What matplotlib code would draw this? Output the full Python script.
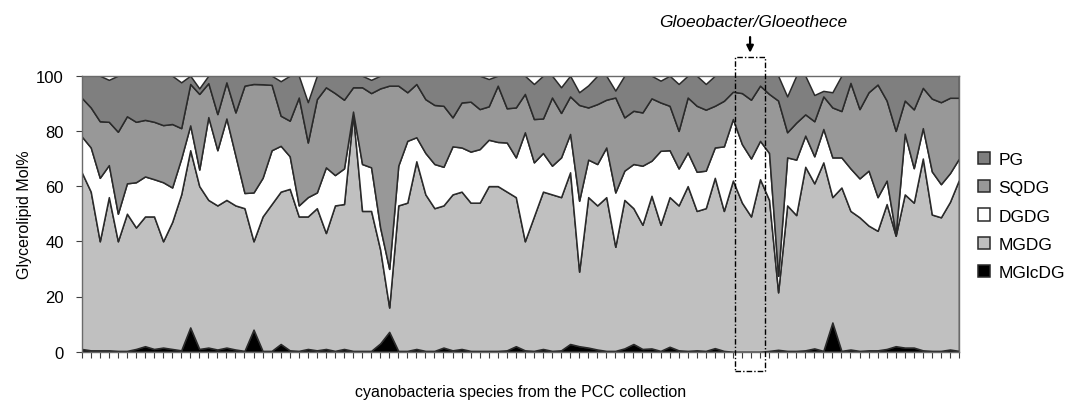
import matplotlib
matplotlib.use("Agg")
import matplotlib.pyplot as plt
from matplotlib.patches import Rectangle
import numpy as np

plt.rcParams["font.family"] = ["Liberation Sans", "DejaVu Sans"]

# ---------------------------------------------------------------------------
# Data: mol% of each glycerolipid class, one value per PCC strain (98 strains)
# ---------------------------------------------------------------------------

lipids = ["MGlcDG", "MGDG", "DGDG", "SQDG", "PG"]

mglcdg = [1, 0.5, 0.5, 0.5, 0.3, 0.3, 1, 2, 1, 1.5,
          1, 0.5, 8.8, 1, 1.5, 0.8, 1.5, 0.8, 0.3, 8,
          0.3, 0.3, 2.8, 0.5, 0.3, 1, 0.5, 1, 0.3, 1,
          0.3, 0.3, 0.3, 3, 7.2, 0.3, 0.3, 1, 0.3, 0.3,
          1.5, 0.5, 1, 0.3, 0.3, 0.3, 0.3, 0.5, 2, 0.5,
          0.3, 1, 0.3, 0.5, 2.8, 2, 1.5, 0.8, 0.3, 0.3,
          1.2, 2.8, 1, 1.2, 0.3, 1.8, 0.5, 0.3, 0.5, 0.3,
          1.3, 0.3, 0, 0, 0, 0, 0.3, 0.7, 0.3, 0.3,
          0.5, 1.2, 0.3, 10.6, 0.3, 0.8, 0.3, 0.5, 0.5, 1,
          2, 1.5, 1.5, 0.5, 0.3, 0.3, 0.8, 0.3]

mgdg = [64, 57.5, 39.5, 55.5, 39.7, 49.7, 44, 47, 48, 38.5,
        46, 56.5, 64.2, 59, 53.5, 52.2, 53.5, 52.2, 51.7, 32,
        48.7, 53.2, 55.2, 58.5, 48.7, 48, 51.5, 42, 52.7, 52.5,
        85.7, 50.7, 50.7, 34, 8.8, 52.7, 53.7, 68, 56.7, 51.7,
        51.5, 56.5, 57, 53.7, 53.7, 59.7, 59.7, 57.5, 54, 39.5,
        48.7, 57, 56.7, 55.5, 62.2, 27, 54.5, 52.2, 55.7, 37.7,
        53.8, 49.2, 45, 55.3, 45.7, 54.2, 52.5, 59.7, 50.5, 51.7,
        61.7, 50.7, 62, 54, 49, 62.5, 54.7, 20.8, 52.7, 49.2,
        66.5, 59.8, 68.3, 45.4, 59.2, 50.2, 48.4, 45.2, 43.3, 52.5,
        40, 55.5, 52.5, 69.5, 49.4, 48.4, 53.5, 62]

dgdg = [13, 16, 23, 11.6, 10, 11, 16.4, 14.5, 13.5, 21.4,
        12.5, 13, 9, 6, 30, 20, 29.5, 18, 5.5, 17.7,
        14, 19.5, 16.6, 11.8, 4, 7, 5.7, 23.8, 11, 12.9,
        1, 17, 15.8, 8, 14, 14.4, 22.4, 8.7, 15, 16,
        14, 17.4, 16, 18.5, 19.4, 16.8, 16, 17.8, 14.4, 39.5,
        19.6, 14, 10.4, 14.4, 13.9, 25.7, 13.6, 15, 18, 19.7,
        10.6, 16, 21.4, 12.7, 26.8, 17, 13.4, 12.2, 14.2, 13.6,
        11, 23.4, 22.3, 21.2, 21, 13.9, 17, 6, 17.4, 20.1,
        11.3, 9.8, 12.1, 14.4, 10.9, 15.4, 14.1, 19.9, 12.2, 8.5,
        0.6, 22, 12.5, 11, 15.6, 12, 10.4, 7.7]

sqdg = [14, 14.5, 20.5, 15.7, 29.7, 24.3, 21.9, 20.5, 20.8, 20.7,
        23, 11, 15, 27.4, 12.3, 13.1, 13.1, 15.7, 38.9, 39.3,
        33.9, 23.7, 10.9, 12.9, 39.1, 19.8, 33.8, 29, 29.7, 24.9,
        8.8, 27.8, 26.9, 50.4, 66.4, 29, 17.6, 19.3, 19.5, 21.4,
        22.1, 10.5, 16.3, 18.1, 14.5, 12.1, 20.4, 12.4, 18.1, 13.9,
        15.7, 12.5, 24.7, 16.1, 13.6, 34.7, 18.9, 21.7, 17.3, 34.4,
        19.3, 19.3, 19.3, 22.6, 17.5, 16.1, 13.6, 19.9, 23.9, 22.1,
        15.1, 16.5, 9.9, 18.5, 21.3, 20, 21.4, 63.5, 9.1, 13.4,
        7.7, 12.7, 11.8, 18.1, 16.8, 31, 25.1, 28.4, 40.8, 29,
        37.4, 12, 21.3, 14.6, 26.4, 29.7, 27.3, 22]

pg = [8, 11.5, 16.5, 15.2, 20.3, 14.7, 16.7, 16, 16.7, 17.9,
      17.5, 16.6, 3, 2, 2.7, 13.9, 2.4, 13.3, 3.6, 3,
      3.1, 3.3, 12.5, 16.3, 7.9, 14.6, 8.5, 4.2, 6.3, 8.7,
      4.2, 4.2, 4.8, 4.6, 3.6, 3.6, 6, 3, 8.5, 10.6,
      10.9, 15.1, 9.7, 9.4, 12.1, 9.9, 3.6, 11.8, 11.5, 6.6,
      12.7, 15.5, 7.9, 9.3, 7.5, 4.6, 8, 10.3, 8.7, 2.5,
      15.1, 12.7, 13.3, 8.2, 7.9, 10.9, 17, 7.9, 10.9, 9.3,
      10.9, 9.1, 5.8, 6.3, 8.7, 3.6, 6.6, 9, 13, 17,
      14, 9.5, 2, 5.5, 12.8, 2.6, 12.1, 6, 3.2, 9,
      20, 9, 12.2, 4.4, 8.3, 9.6, 8, 8]

highlight = "Gloeobacter/Gloeothece"

colors = ["black", "#c0c0c0", "white", "#989898", "#7f7f7f"]

# ---------------------------------------------------------------------------
# Plot
# ---------------------------------------------------------------------------

x = np.arange(len(mgdg))

fig = plt.figure(figsize=(10.71, 4.10), dpi=100)
ax = fig.add_axes([81.7 / 1071, 1 - 352.7 / 410, (959 - 81.7) / 1071, (352.7 - 76.7) / 410])

polys = ax.stackplot(x, mglcdg, mgdg, dgdg, sqdg, pg, labels=lipids, colors=colors,
                     edgecolor="#2a2a2a", linewidth=1.1)

ax.set_xlim(0, len(x) - 1)
ax.set_ylim(0, 100)
ax.set_yticks(range(0, 101, 20))
ax.set_xticks(x)
ax.set_xticklabels([])
ax.tick_params(axis="x", length=4, direction="out", color="#404040")
ax.tick_params(axis="y", length=4, direction="out", color="#404040", labelsize=12, pad=9)
for sp in ax.spines.values():
    sp.set_color("#6a6a6a")
    sp.set_linewidth(1)

ax.set_ylabel("Glycerolipid Mol%", fontsize=11.5, labelpad=3)
ax.set_xlabel("cyanobacteria species from the PCC collection", fontsize=11.5, labelpad=16)

# highlighted Gloeobacter/Gloeothece strains
box = Rectangle((72.25, -7), 3.35, 113.8, fill=False, edgecolor="black", linewidth=1,
                linestyle=(0, (4, 1.5, 1, 1.5)), clip_on=False, zorder=5)
ax.add_patch(box)
ax.annotate("", xy=(73.9, 107.3), xytext=(73.9, 115),
            arrowprops=dict(arrowstyle="-|>", color="black", lw=1.6, mutation_scale=10),
            annotation_clip=False)
ax.text(74.2, 119.5, highlight, style="italic", fontsize=12.5, ha="center", va="center")

handles = polys[::-1]
fig.legend(handles, lipids[::-1], loc="center left", bbox_to_anchor=(962 / 1071, 1 - 217 / 410),
           frameon=False, fontsize=12.5, handlelength=0.7, handleheight=0.7,
           handletextpad=0.5, labelspacing=0.75)

fig.savefig("out.png", dpi=100)
plt.close(fig)
